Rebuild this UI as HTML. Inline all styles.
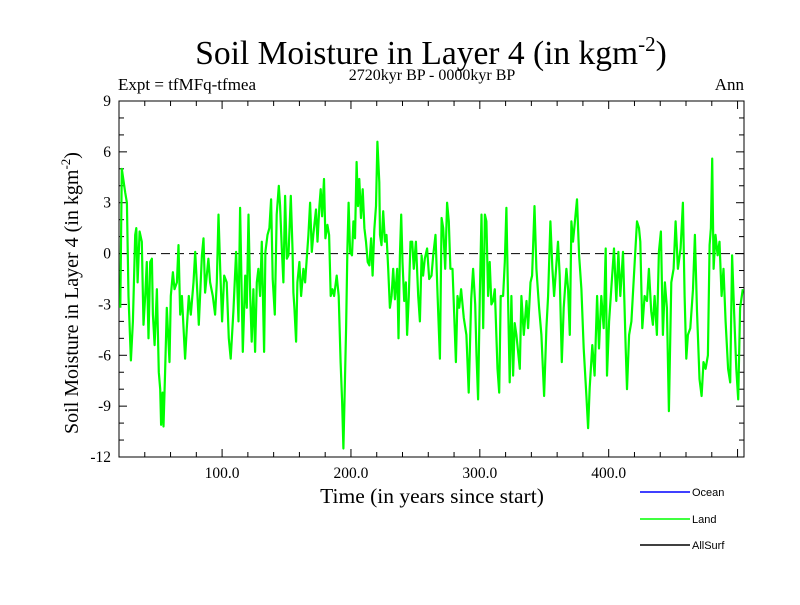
<!DOCTYPE html>
<html><head><meta charset="utf-8"><style>
body{margin:0;background:#fff}
svg text{font-family:"Liberation Serif",serif}
</style></head><body>
<svg id="c" width="800" height="600" xmlns="http://www.w3.org/2000/svg">
<text x="431" y="64" font-size="33.5" text-anchor="middle">Soil Moisture in Layer 4 (in kgm<tspan dy="-13" font-size="21">-2</tspan><tspan dy="13">)</tspan></text>
<text x="118" y="90" font-size="17">Expt = tfMFq-tfmea</text>
<text x="432" y="80" font-size="16" text-anchor="middle">2720kyr BP - 0000kyr BP</text>
<text x="744" y="90" font-size="17" text-anchor="end">Ann</text>
<text transform="translate(78,293) rotate(-90)" font-size="20" text-anchor="middle">Soil Moisture in Layer 4 (in kgm<tspan dy="-8" font-size="13">-2</tspan><tspan dy="8">)</tspan></text>
<text x="432" y="503" font-size="21.5" text-anchor="middle">Time (in years since start)</text>
<g id="axes"></g>
<g id="plot"></g>
<g>
<line x1="640" y1="492" x2="690" y2="492" stroke="#0000ff" stroke-width="1.5"/>
<text x="692" y="496" font-size="11" style="font-family:'Liberation Sans',sans-serif">Ocean</text>
<line x1="640" y1="519" x2="690" y2="519" stroke="#00ff00" stroke-width="1.5"/>
<text x="692" y="523" font-size="11" style="font-family:'Liberation Sans',sans-serif">Land</text>
<line x1="640" y1="545" x2="690" y2="545" stroke="#000" stroke-width="1.5"/>
<text x="692" y="549" font-size="11" style="font-family:'Liberation Sans',sans-serif">AllSurf</text>
</g>
</svg>
<script>
const years=[21.0,22.2,24.8,26.1,27.4,29.2,30.8,32.6,33.4,34.4,36.0,37.7,39.0,40.3,41.6,42.9,44.2,45.5,46.3,47.6,49.4,50.9,52.0,52.7,53.8,54.5,55.8,57.1,59.2,60.2,61.8,63.1,64.9,66.2,67.5,68.8,71.3,72.6,74.2,75.7,77.8,79.1,80.9,81.9,84.3,85.6,86.8,89.4,90.7,92.8,94.6,95.9,97.2,98.5,100.0,101.6,103.6,105.2,106.7,108.8,110.9,112.7,
114.0,116.1,117.9,119.2,120.5,121.8,123.0,124.3,125.6,126.9,128.2,129.5,130.8,132.6,133.6,135.2,136.7,138.0,139.3,140.9,142.4,144.0,145.0,146.3,147.6,148.9,150.2,151.5,153.3,154.6,155.3,156.1,157.4,158.4,160.0,161.3,163.1,164.4,167.0,168.3,169.6,170.8,172.9,174.0,175.5,176.5,177.6,179.1,180.2,181.7,183.0,184.3,185.6,186.9,188.9,190.5,192.0,193.1,194.1,195.1,196.2,197.2,198.2,199.3,200.8,201.9,203.1,204.4,205.5,206.5,207.8,209.1,210.4,211.7,213.0,214.3,215.6,216.8,218.1,219.4,220.5,222.0,
222.5,223.7,225.0,226.3,227.6,228.9,230.2,231.5,232.8,234.1,235.9,236.9,238.0,239.0,240.0,241.3,242.6,243.6,244.9,246.2,247.5,248.8,250.4,252.2,253.5,254.8,256.0,257.3,259.1,260.7,262.5,263.8,265.6,267.2,269.0,270.3,271.6,273.1,274.6,275.9,277.2,278.8,280.1,281.4,282.7,284.0,285.5,287.6,289.6,291.4,293.3,294.8,296.4,297.4,298.7,300.0,301.3,302.6,303.9,305.1,306.4,307.7,309.0,310.3,311.6,313.7,315.0,316.2,318.1,319.4,320.6,321.9,323.2,
324.5,325.8,327.1,328.4,331.0,332.3,334.1,336.2,337.5,339.3,340.6,342.4,343.9,346.0,347.8,349.9,351.7,353.0,354.8,356.3,357.6,360.7,362.0,363.6,365.1,367.2,368.5,369.8,371.1,372.3,375.4,377.0,378.8,380.6,382.7,384.0,385.3,387.3,389.1,391.0,392.5,394.3,396.1,397.7,398.7,400.3,402.3,404.1,405.9,407.5,409.0,411.1,413.2,414.2,415.8,417.6,420.2,422.0,423.5,
424.5,426.1,427.9,429.7,431.2,433.0,434.3,435.6,437.4,439.0,440.5,442.1,443.6,445.2,446.7,448.6,450.4,451.9,453.7,455.8,457.6,458.9,460.2,461.5,463.3,465.4,466.9,468.5,470.5,472.1,473.6,475.2,477.0,478.3,479.3,480.3,481.4,482.9,484.5,486.0,487.6,489.1,490.7,492.7,494.3,495.8,497.4,499.0,500.5,502.0,504.1];
const landValues=[-3.2,5.0,3.6,3.0,-2.5,-6.3,-4.0,1.1,1.5,-1.7,1.3,0.7,-4.2,-2.5,-0.5,-5.0,-0.5,-0.3,-3.6,-5.4,-2.1,-7.0,-8.0,-10.1,-8.2,-10.2,-7.0,-3.2,-6.4,-2.5,-1.1,-2.1,-1.7,0.5,-3.6,-2.5,-6.2,-4.4,-2.5,-3.6,-1.7,0.1,-2.5,-4.2,-0.1,0.9,-2.3,-0.3,-1.7,-2.5,-3.6,-1.7,2.3,-0.9,-4.0,-1.3,-1.7,-5.0,-6.2,-3.4,0.1,-4.0,
2.7,-5.8,-1.3,-3.2,2.3,-2.5,-5.2,-2.1,-5.8,-1.7,-0.9,-2.5,0.7,-5.8,0.1,1.1,1.5,3.2,-1.5,-3.6,2.3,4.0,2.8,0.3,-1.7,3.4,-0.3,-0.1,3.4,0.3,-2.3,-3.2,-5.2,-1.7,-0.5,-2.5,-0.9,-1.7,1.1,3.0,0.1,1.1,2.6,0.7,2.8,3.8,2.2,4.4,0.9,1.7,1.1,-2.5,-2.1,-2.5,-1.3,-2.5,-6.4,-8.7,-11.5,-8.4,-4.4,0.3,3.0,0.1,-0.1,1.9,0.9,5.4,2.8,4.4,2.1,3.8,1.5,0.7,-0.5,-0.7,0.9,-1.3,1.4,2.8,6.6,4.2,
1.1,0.5,2.5,0.7,1.1,-0.9,-3.2,-2.5,-0.9,-2.7,-0.9,-5.0,-0.1,2.3,-0.5,-2.8,-1.7,-4.8,-2.5,0.7,0.7,-0.9,0.7,-2.5,-4.0,-0.1,-1.3,-0.3,0.3,-1.5,-1.3,-0.1,1.1,-2.5,-6.2,2.1,1.5,-0.9,3.0,1.9,-0.9,-0.9,-3.6,-6.4,-2.5,-3.2,-2.1,-3.8,-4.8,-8.2,-2.7,-0.9,-3.0,-6.0,-8.6,-2.5,2.3,-4.4,2.3,1.9,-2.5,-0.5,-3.0,-2.8,-2.1,-6.8,-8.2,-2.5,-2.5,-0.5,2.7,-2.5,-7.6,
-2.5,-7.2,-4.1,-4.8,-6.8,-2.5,-4.8,-2.8,-4.4,-1.7,-1.3,2.8,-0.9,-3.2,-4.8,-8.4,-4.4,-2.5,1.9,-0.9,-2.5,0.7,-1.3,-6.4,-3.2,-0.9,-2.1,-4.8,1.9,0.7,3.2,-0.1,-2.1,-5.6,-8.4,-10.3,-7.9,-5.4,-7.2,-2.5,-5.6,-2.5,-4.4,0.3,-7.2,-4.0,-1.7,0.3,-2.8,0.1,-2.5,0.1,-5.6,-8.0,-4.8,-4.0,-0.5,1.9,1.5,
0.7,-4.4,-2.5,-2.8,-0.9,-3.4,-4.2,-2.5,-4.8,0.1,1.3,-4.8,-1.7,-3.2,-9.3,-1.7,-0.9,1.9,-0.9,0.3,3.0,-2.5,-6.2,-4.8,-4.4,-2.1,1.1,-3.4,-7.4,-8.4,-6.4,-6.8,-6.0,0.5,1.5,5.6,-0.9,1.1,-0.1,0.7,-2.5,-0.9,-4.0,-6.8,-7.6,-0.1,-3.6,-6.8,-8.6,-3.2,-2.1];
const yTickValues=[9,6,3,0,-3,-6,-9,-12];
const xTickLabels=["100.0","200.0","300.0","400.0"];
const xMajorTicks=[100,200,300,400];

const L=119,R=744,T=101,B=457,X0=20,X1=505,Y0=-12,Y1=9;
const xs=v=>L+(v-X0)/(X1-X0)*(R-L);
const ys=v=>B-(v-Y0)/(Y1-Y0)*(B-T);
const NS="http://www.w3.org/2000/svg";
function mk(tag,attrs,parent){const e=document.createElementNS(NS,tag);for(const k in attrs)e.setAttribute(k,attrs[k]);parent.appendChild(e);return e;}
const axes=document.getElementById('axes'),plot=document.getElementById('plot');

const zero=mk('line',{x1:L,x2:R,y1:ys(0),y2:ys(0),stroke:'#000','stroke-width':1,'stroke-dasharray':'9,5'},plot);



let d='';
years.forEach((y,i)=>{d+=(i?'L':'M')+xs(y).toFixed(1)+' '+ys(landValues[i]).toFixed(1);});
const ln=mk('path',{d:d,fill:'none',stroke:'#00ff00','stroke-width':2.2,'stroke-linejoin':'round'},plot);



const frame=mk('rect',{x:L,y:T,width:R-L,height:B-T,fill:'none',stroke:'#000','stroke-width':1},axes);



for(let v=Y0;v<=Y1;v++){
  const major=(v%3===0),len=major?8:5,y=ys(v);
  mk('line',{x1:L,x2:L+len,y1:y,y2:y,stroke:'#000'},axes);
  mk('line',{x1:R,x2:R-len,y1:y,y2:y,stroke:'#000'},axes);
}
yTickValues.forEach(v=>{
  const t=mk('text',{x:L-8,y:ys(v)+5,'font-size':15.5,'text-anchor':'end'},axes);
  t.textContent=String(v);
  
  
});
for(let v=20;v<=500;v+=20){
  const major=(v%100===0),len=major?8:5,x=xs(v);
  mk('line',{x1:x,x2:x,y1:B,y2:B-len,stroke:'#000'},axes);
  mk('line',{x1:x,x2:x,y1:T,y2:T+len,stroke:'#000'},axes);
}
xMajorTicks.forEach((v,i)=>{
  const t=mk('text',{x:xs(v),y:478,'font-size':15.5,'text-anchor':'middle'},axes);
  t.textContent=xTickLabels[i];
  
  
});
</script>
</body></html>
